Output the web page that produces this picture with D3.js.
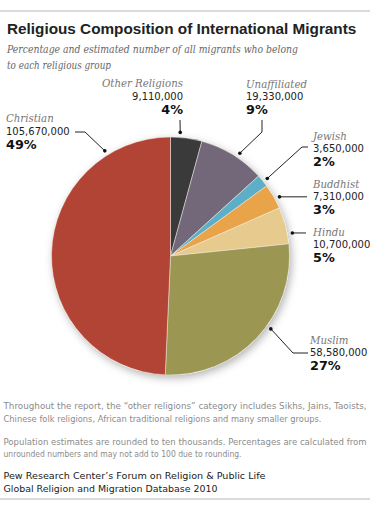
<!DOCTYPE html>
<html><head><meta charset="utf-8">
<script src="https://cdn.jsdelivr.net/npm/d3@7"></script>
<style>
html,body{margin:0;padding:0;background:#fff;}
svg{display:block;}
</style></head>
<body>
<svg id="chart" width="370" height="519"></svg>
<script>
// ---------- data ----------
const categories = ["Other Religions","Unaffiliated","Jewish","Buddhist","Hindu","Muslim","Christian"];
const populations = [9110000,19330000,3650000,7310000,10700000,58580000,105670000];
const percents = [4,9,2,3,5,27,49];
const palette = ["#3a3a3a","#736879","#5cafc7","#e9a349","#e7ca8d","#9b9752","#b24435"];

const titleText = "Religious Composition of International Migrants";
const subtitleLines = ["Percentage and estimated number of all migrants who belong","to each religious group"];
const noteLines = [
  "Throughout the report, the \u201cother religions\u201d category includes Sikhs, Jains, Taoists,",
  "Chinese folk religions, African traditional religions and many smaller groups.",
  "Population estimates are rounded to ten thousands. Percentages are calculated from",
  "unrounded numbers and may not add to 100 due to rounding."
];
const sourceLines = ["Pew Research Center\u2019s Forum on Religion & Public Life","Global Religion and Migration Database 2010"];

// ---------- layout ----------
const W = 370, H = 519;
const cx = 170.5, cy = 256, R = 119;
// label layout: dot angle (deg), leader elbows, text anchor
const labelLayout = [
  {ang:4.5,  pts:[[180,120]],             x:183, anchor:"end",   y:[87,100,114]},
  {ang:34,   pts:[[262,132],[262,120]],   x:246, anchor:"start", y:[88,100,114]},
  {ang:51.3, pts:[[302,147],[308,147]],   x:313, anchor:"start", y:[140,152,166]},
  {ang:61.5, pts:[[307,null]],            x:313, anchor:"start", y:[188,200,214]},
  {ang:79.3, pts:[[306,null]],            x:313, anchor:"start", y:[236,248,262]},
  {ang:126,  pts:[[293,353],[308,353]],   x:310, anchor:"start", y:[344,356,370]},
  {ang:328,  pts:[[85,132],[75,132]],     x:6,   anchor:"start", y:[122,135,149]}
];

const svg = d3.select("#chart");
const fit = (sel, w) => { sel.attr("textLength", w).attr("lengthAdjust","spacingAndGlyphs"); };

// rules
svg.append("line").attr("x1",0).attr("x2",W).attr("y1",11).attr("y2",11).attr("stroke","#b5b5b5").attr("stroke-width",1);
svg.append("line").attr("x1",0).attr("x2",W).attr("y1",499).attr("y2",499).attr("stroke","#b5b5b5").attr("stroke-width",1);

// title
svg.append("text").attr("x",7).attr("y",34).text(titleText)
  .attr("font-family","Liberation Sans").attr("font-weight","bold").attr("font-size",15.3).attr("fill","#222");

// subtitle
const subW = [291, 104];
subtitleLines.forEach((t,i)=>{
  svg.append("text").attr("x",7).attr("y",53+16*i).text(t)
    .attr("font-family","DejaVu Serif").attr("font-style","italic").attr("font-size",11.5).attr("fill","#666")
    .call(fit, subW[i]);
});

// shadow filter
const defs = svg.append("defs");
const f = defs.append("filter").attr("id","shadow").attr("x","-20%").attr("y","-20%").attr("width","140%").attr("height","140%");
f.append("feDropShadow").attr("dx",2).attr("dy",3).attr("stdDeviation",4).attr("flood-color","#000").attr("flood-opacity",0.3);

// pie
const pie = d3.pie().sort(null).value(d=>d);
const arcs = pie(populations);
const arc = d3.arc().innerRadius(0).outerRadius(R);
const g = svg.append("g").attr("transform",`translate(${cx},${cy})`);
g.append("circle").attr("r",R).attr("fill","#fff").attr("filter","url(#shadow)");
g.selectAll("path.slice").data(arcs).join("path").attr("class","slice")
  .attr("d",arc).attr("fill",(d,i)=>palette[i])
  .attr("stroke","#f4efe6").attr("stroke-width",0.6).attr("stroke-opacity",0.8);

// labels
const fmt = d3.format(",");
const rad = Math.PI/180;
categories.forEach((c,i)=>{
  const L = labelLayout[i];
  const p = d3.pointRadial(L.ang*rad, R+5);
  const dot = [cx+p[0], cy+p[1]];
  const pts = [dot].concat(L.pts.map(q=>[q[0], q[1]===null?dot[1]:q[1]]));
  svg.append("path").attr("d", d3.line()(pts)).attr("fill","none").attr("stroke","#222").attr("stroke-width",1);
  svg.append("circle").attr("cx",dot[0]).attr("cy",dot[1]).attr("r",1.8).attr("fill","#111");
  svg.append("text").attr("x",L.x).attr("y",L.y[0]).attr("text-anchor",L.anchor).text(c)
    .attr("font-family","DejaVu Serif").attr("font-style","italic").attr("font-size",10.2).attr("fill","#777");
  svg.append("text").attr("x",L.x).attr("y",L.y[1]).attr("text-anchor",L.anchor).text(fmt(populations[i]))
    .attr("font-family","DejaVu Sans").attr("font-size",10).attr("fill","#222");
  svg.append("text").attr("x",L.x).attr("y",L.y[2]).attr("text-anchor",L.anchor).text(percents[i]+"%")
    .attr("font-family","DejaVu Sans").attr("font-weight","bold").attr("font-size",12.8).attr("fill","#111");
});

// notes
const noteY = [409,422,445,457];
const noteW = [363,318,363,238];
noteLines.forEach((t,i)=>{
  svg.append("text").attr("x",3.5).attr("y",noteY[i]).text(t)
    .attr("font-family","DejaVu Sans").attr("font-size",8.5).attr("fill","#8c8c8c")
    .call(fit, noteW[i]);
});
const srcY = [479,492], srcW = [262,214];
sourceLines.forEach((t,i)=>{
  svg.append("text").attr("x",3.5).attr("y",srcY[i]).text(t)
    .attr("font-family","DejaVu Sans").attr("font-size",8.5).attr("fill","#222")
    .call(fit, srcW[i]);
});
</script>
</body></html>
